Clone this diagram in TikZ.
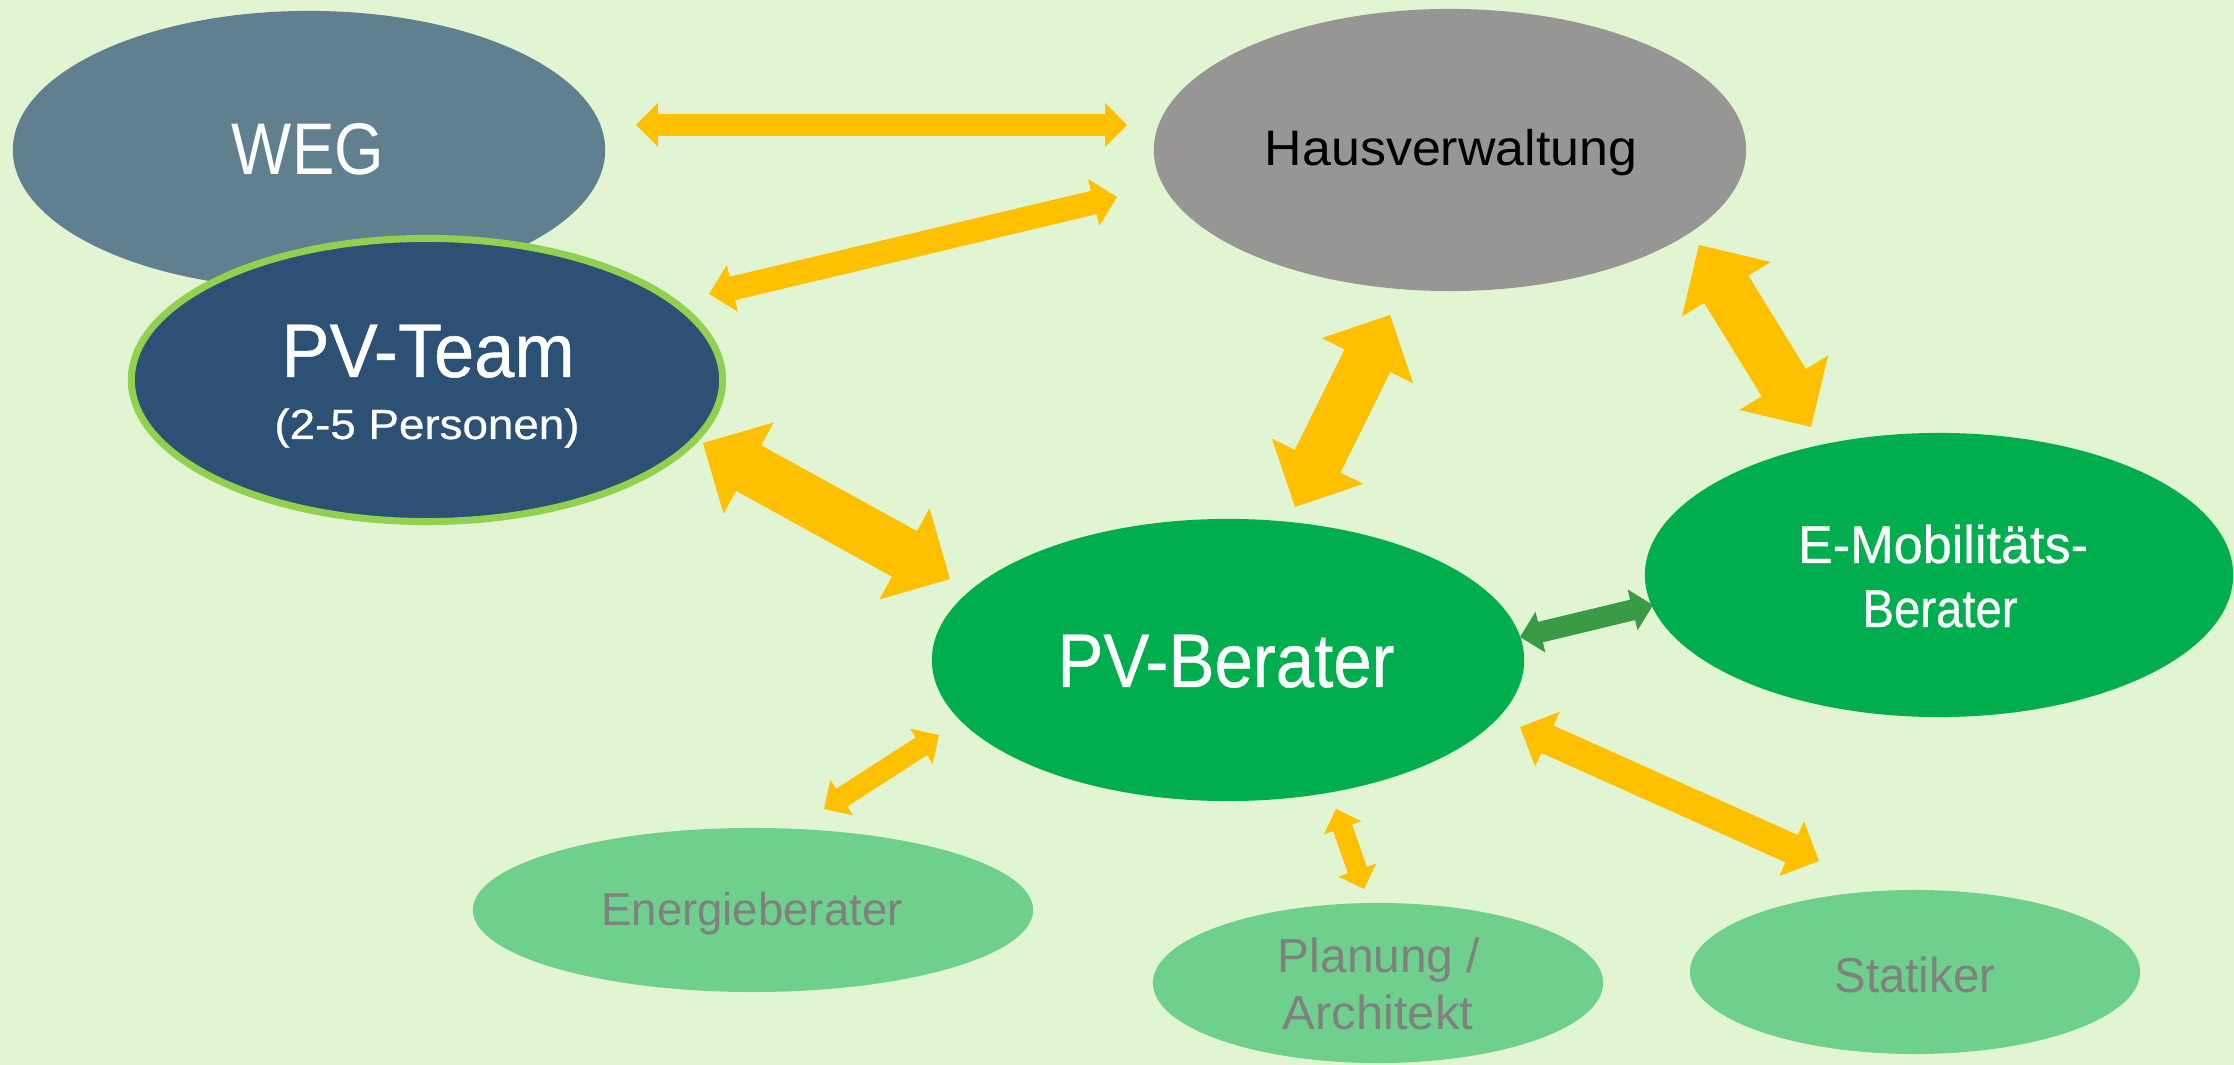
\documentclass[tikz,border=0pt]{standalone}
\usepackage{fontspec}
\setmainfont{Liberation Sans}
\newfontfamily\medfont{Liberation Sans}[FakeBold=0.6]
\usetikzlibrary{shapes.geometric,calc}

\definecolor{bgcol}{HTML}{E2F5D2}
\definecolor{wegcol}{HTML}{607F8F}
\definecolor{hvcol}{HTML}{989694}
\definecolor{teamcol}{HTML}{2D5075}
\definecolor{teamrim}{HTML}{92D050}
\definecolor{maingreen}{HTML}{00AE50}
\definecolor{softgreen}{HTML}{6FCF8D}
\definecolor{softtext}{HTML}{808080}
\definecolor{arrowyellow}{HTML}{FFC000}
\definecolor{arrowgreen}{HTML}{3A9A46}

% double-headed block arrow between two named tips:
% #1, #2 tips, #3 head half-width (px), #4 colour
\newcommand\blockarrow[4]{%
  \pgfmathsetmacro\baW{#3*0.284528}%
  \pgfmathsetmacro\baw{\baW/2}%
  \fill[#4] (#1)
    -- ($(#1)!\baW pt!(#2)!\baW pt!90:(#2)$)
    -- ($(#1)!\baW pt!(#2)!\baw pt!90:(#2)$)
    -- ($(#2)!\baW pt!(#1)!\baw pt!-90:(#1)$)
    -- ($(#2)!\baW pt!(#1)!\baW pt!-90:(#1)$)
    -- (#2)
    -- ($(#2)!\baW pt!(#1)!\baW pt!90:(#1)$)
    -- ($(#2)!\baW pt!(#1)!\baw pt!90:(#1)$)
    -- ($(#1)!\baW pt!(#2)!\baw pt!-90:(#2)$)
    -- ($(#1)!\baW pt!(#2)!\baW pt!-90:(#2)$)
    -- cycle;
}

% label text: size in pt, printed width, text
\newcommand\lbl[3]{\fontsize{#1}{#1}\selectfont\resizebox{#2}{\height}{#3}}

\tikzset{
  blob/.style={ellipse, inner sep=0pt, outer sep=0pt},
  caption/.style={anchor=base, inner sep=0pt, outer sep=0pt},
}

\begin{document}
\begin{tikzpicture}[x=0.01cm, y=-0.01cm]
  \fill[bgcol] (0,0) rectangle (2234,1065);
  \useasboundingbox (0,0) rectangle (2234,1065);

  % ellipses
  \node[blob, fill=wegcol, minimum width=5.92cm, minimum height=2.78cm] (weg) at (309,150) {};
  \node[blob, fill=hvcol, minimum width=5.92cm, minimum height=2.82cm] (hv) at (1450,150) {};
  \node[blob, fill=teamcol, draw=teamrim, line width=0.07cm,
        minimum width=5.91cm, minimum height=2.83cm] (team) at (427,380) {};
  \node[blob, fill=maingreen, minimum width=5.92cm, minimum height=2.82cm] (pvb) at (1228,660) {};
  \node[blob, fill=maingreen, minimum width=5.88cm, minimum height=2.84cm] (emob) at (1939,575) {};
  \node[blob, fill=softgreen, minimum width=5.60cm, minimum height=1.64cm] (energie) at (753,910) {};
  \node[blob, fill=softgreen, minimum width=4.50cm, minimum height=1.60cm] (planung) at (1378,983) {};
  \node[blob, fill=softgreen, minimum width=4.50cm, minimum height=1.64cm] (statiker) at (1915,972) {};

  % arrow tips
  \coordinate (weg-hv-a) at (636,125);
  \coordinate (weg-hv-b) at (1127,125);
  \coordinate (team-hv-a) at (709,294);
  \coordinate (team-hv-b) at (1117,197);
  \coordinate (team-pvb-a) at (703,443);
  \coordinate (team-pvb-b) at (950,579);
  \coordinate (pvb-hv-a) at (1295,507);
  \coordinate (pvb-hv-b) at (1390,315);
  \coordinate (hv-emob-a) at (1699,245);
  \coordinate (hv-emob-b) at (1811,427);
  \coordinate (pvb-emob-a) at (1520,637);
  \coordinate (pvb-emob-b) at (1653,605);
  \coordinate (pvb-stat-a) at (1520,727);
  \coordinate (pvb-stat-b) at (1819,861);
  \coordinate (pvb-en-a) at (939,735);
  \coordinate (pvb-en-b) at (824,809);
  \coordinate (pvb-pl-a) at (1336,809);
  \coordinate (pvb-pl-b) at (1364,889);

  % connectors
  \blockarrow{weg-hv-a}{weg-hv-b}{22}{arrowyellow}
  \blockarrow{team-hv-a}{team-hv-b}{24}{arrowyellow}
  \blockarrow{team-pvb-a}{team-pvb-b}{52}{arrowyellow}
  \blockarrow{pvb-hv-a}{pvb-hv-b}{51}{arrowyellow}
  \blockarrow{hv-emob-a}{hv-emob-b}{52}{arrowyellow}
  \blockarrow{pvb-emob-a}{pvb-emob-b}{21}{arrowgreen}
  \blockarrow{pvb-stat-a}{pvb-stat-b}{30}{arrowyellow}
  \blockarrow{pvb-en-a}{pvb-en-b}{21}{arrowyellow}
  \blockarrow{pvb-pl-a}{pvb-pl-b}{20}{arrowyellow}

  % texts
  \node[caption, text=white] (weg-t) at (308,175) {\lbl{20.8}{1.52cm}{WEG}};
  \node[caption, text=black] (hv-t) at (1451,166) {\lbl{14.2}{3.72cm}{Hausverwaltung}};
  \node[caption, text=white, font=\medfont] (team-t1) at (428,377) {\lbl{21.6}{2.93cm}{PV-Team}};
  \node[caption, text=white, font=\medfont] (team-t2) at (427,439) {\lbl{12.0}{3.05cm}{(2-5 Personen)}};
  \node[caption, text=white, font=\medfont] (pvb-t) at (1226,687) {\lbl{21.6}{3.37cm}{PV-Berater}};
  \node[caption, text=white, font=\medfont] (emob-t1) at (1943,563) {\lbl{15.1}{2.90cm}{E-Mobilitäts-}};
  \node[caption, text=white, font=\medfont] (emob-t2) at (1940,627) {\lbl{15.1}{1.55cm}{Berater}};
  \node[caption, text=softtext] (energie-t) at (752,926) {\lbl{13.1}{3.01cm}{Energieberater}};
  \node[caption, text=softtext] (planung-t1) at (1379,973) {\lbl{13.6}{2.02cm}{Planung /}};
  \node[caption, text=softtext] (planung-t2) at (1378,1030) {\lbl{13.6}{1.90cm}{Architekt}};
  \node[caption, text=softtext] (statiker-t) at (1915,992) {\lbl{14.0}{1.60cm}{Statiker}};
\end{tikzpicture}
\end{document}
